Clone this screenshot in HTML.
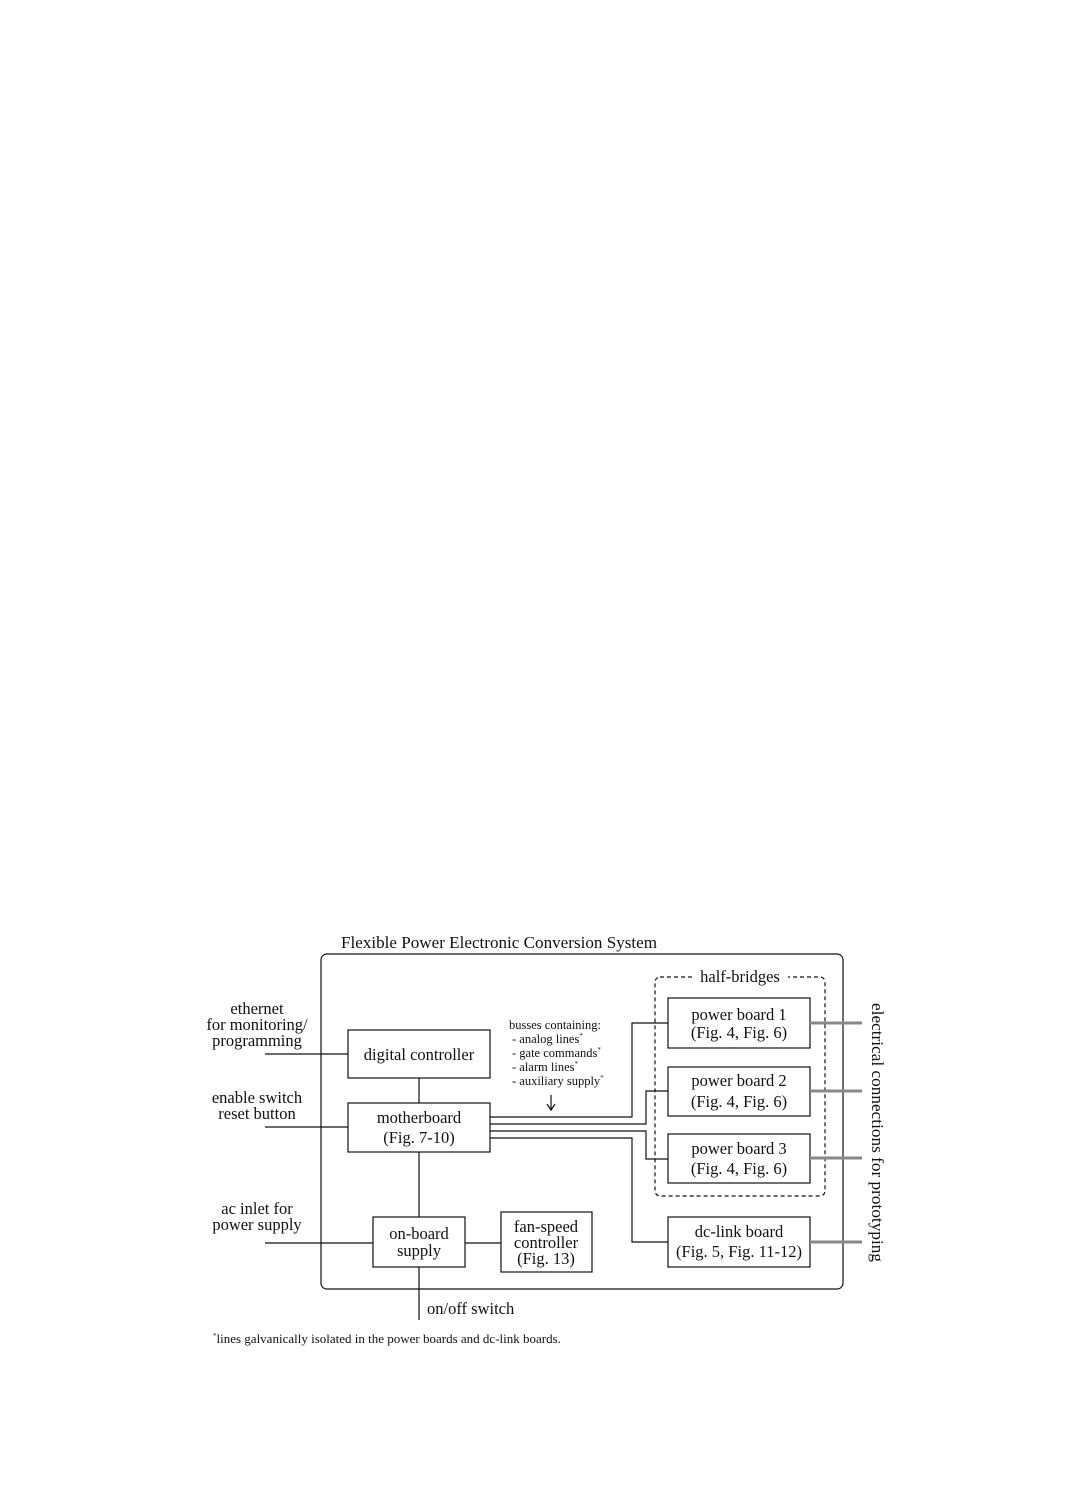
<!DOCTYPE html>
<html><head><meta charset="utf-8"><style>
html,body{margin:0;padding:0;background:#fff;}
svg{display:block;}
text{font-family:"Liberation Serif",serif;fill:#111;}
</style></head><body>
<svg width="1089" height="1485" viewBox="0 0 1089 1485" xmlns="http://www.w3.org/2000/svg">
<g fill="none" stroke="#111" stroke-width="1.2">
<rect x="321" y="954" width="522" height="335" rx="6"/>
<rect x="655" y="977" width="170" height="219" rx="5" stroke-dasharray="4,3"/>
<rect x="348" y="1030" width="142" height="48"/>
<rect x="348" y="1103" width="142" height="49"/>
<rect x="668" y="998" width="142" height="50"/>
<rect x="668" y="1067" width="142" height="49"/>
<rect x="668" y="1134" width="142" height="49"/>
<rect x="668" y="1217" width="142" height="50"/>
<rect x="373" y="1217" width="92" height="50"/>
<rect x="501" y="1212" width="91" height="60"/>
<path d="M490 1117H632V1023H668"/>
<path d="M490 1124H646V1091H668"/>
<path d="M490 1131H646V1159H668"/>
<path d="M490 1138H632V1242H668"/>
<path d="M265 1054H348M265 1127H348M265 1243H373M465 1243H501"/>
<path d="M419 1078V1103M419 1152V1217M419 1267V1320"/>
<path d="M551 1095V1109M547 1104L551 1110L555 1104"/>
</g>
<rect x="692" y="968" width="96" height="16" fill="#fff"/>
<g stroke="#888" stroke-width="3">
<path d="M810 1023H862M810 1091H862M810 1158H862M810 1242H862"/>
</g>
<g font-size="16.5" text-anchor="middle">
<text x="740" y="982">half-bridges</text>
<text x="419" y="1060">digital controller</text>
<text x="419" y="1123">motherboard</text>
<text x="419" y="1143">(Fig. 7-10)</text>
<text x="739" y="1020">power board 1</text>
<text x="739" y="1038">(Fig. 4, Fig. 6)</text>
<text x="739" y="1086">power board 2</text>
<text x="739" y="1107">(Fig. 4, Fig. 6)</text>
<text x="739" y="1154">power board 3</text>
<text x="739" y="1174">(Fig. 4, Fig. 6)</text>
<text x="739" y="1237">dc-link board</text>
<text x="739" y="1257">(Fig. 5, Fig. 11-12)</text>
<text x="419" y="1239">on-board</text>
<text x="419" y="1256">supply</text>
<text x="546" y="1232">fan-speed</text>
<text x="546" y="1248">controller</text>
<text x="546" y="1264">(Fig. 13)</text>
<text x="257" y="1014">ethernet</text>
<text x="257" y="1030">for monitoring/</text>
<text x="257" y="1046">programming</text>
<text x="257" y="1103">enable switch</text>
<text x="257" y="1119">reset button</text>
<text x="257" y="1214">ac inlet for</text>
<text x="257" y="1230">power supply</text>
</g>
<text x="341" y="948" font-size="16.5" textLength="316" lengthAdjust="spacingAndGlyphs">Flexible Power Electronic Conversion System</text>
<text x="427" y="1314" font-size="16.5">on/off switch</text>
<text transform="translate(872,1003) rotate(90)" font-size="16.5" textLength="259" lengthAdjust="spacingAndGlyphs">electrical connections for prototyping</text>
<g font-size="12.5">
<text x="509" y="1029">busses containing:</text>
<text x="512" y="1043">- analog lines<tspan font-size="7" dy="-5">*</tspan></text>
<text x="512" y="1057">- gate commands<tspan font-size="7" dy="-5">*</tspan></text>
<text x="512" y="1071">- alarm lines<tspan font-size="7" dy="-5">*</tspan></text>
<text x="512" y="1085">- auxiliary supply<tspan font-size="7" dy="-5">*</tspan></text>
</g>
<text x="213" y="1343" font-size="13"><tspan font-size="7" dy="-5">*</tspan><tspan dy="5">lines galvanically isolated in the power boards and dc-link boards.</tspan></text>
</svg>
</body></html>
